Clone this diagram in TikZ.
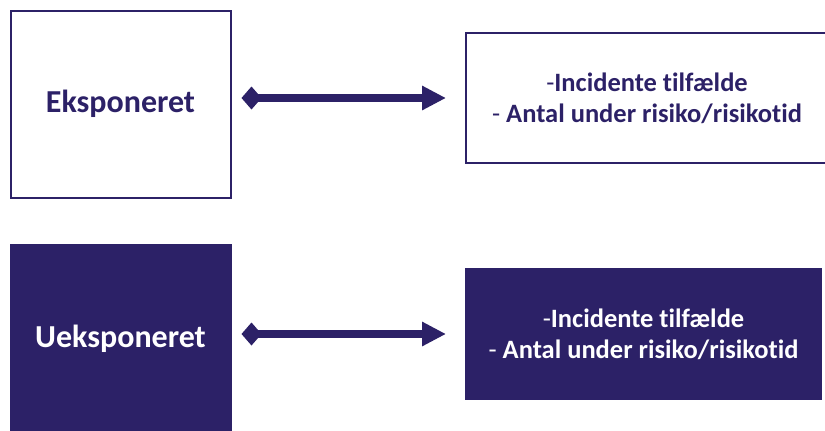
\documentclass[tikz,border=0pt]{standalone}
\usepackage{fontspec}
\setmainfont[Ligatures=NoCommon]{Carlito}
\usetikzlibrary{arrows.meta,positioning}
\definecolor{lilla}{RGB}{44,33,103}

\begin{document}
\begin{tikzpicture}[x=1pt,y=-1pt,
  gruppe/.style={draw=lilla,line width=2pt,inner sep=0pt,minimum width=220pt,minimum height=187pt,
    font=\bfseries\fontsize{32}{34}\selectfont},
  maal/.style={draw=lilla,line width=2pt,inner sep=0pt,minimum height=130pt,align=center,
    font=\bfseries\fontsize{26.5}{31}\selectfont},
  pil/.style={lilla,line width=8pt,shorten <=10pt,shorten >=19pt,
    {Turned Square[length=20pt,width=23pt]}-{Triangle[length=24pt,width=23pt]}}]
\clip (0,0) rectangle (825,431);
\useasboundingbox (0,0) rectangle (825,431);
% eksponerede
\node[gruppe,text=lilla] (eksp) at (120.5,104) {Eksponeret};
\node[maal,text=lilla,minimum width=362pt] (eksprate) at (647,98)
  {{\mdseries-}Incidente tilfælde\\{\mdseries-} Antal under risiko/risikotid};
% ueksponerede
\node[gruppe,fill=lilla,text=white] (ueksp) at (120.5,338.5) {Ueksponeret};
\node[maal,fill=lilla,text=white,minimum width=355pt] (uekrate) at (643.5,334)
  {{\mdseries-}Incidente tilfælde\\{\mdseries-} Antal under risiko/risikotid};
\draw[pil] (eksp.east |- eksprate.west) -- (eksprate.west);
\draw[pil] (ueksp.east |- uekrate.west) -- (uekrate.west);
\end{tikzpicture}
\end{document}
